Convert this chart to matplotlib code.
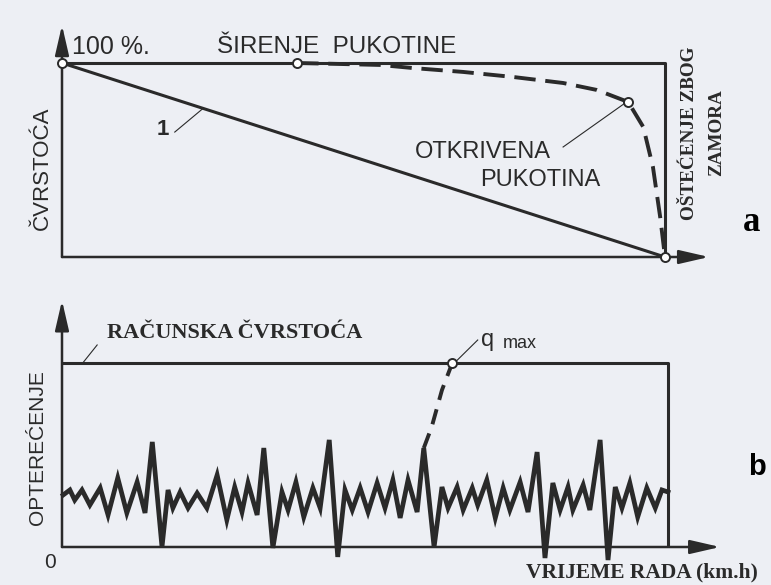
import matplotlib
matplotlib.use("Agg")
import matplotlib.pyplot as plt

W, H = 771, 585
INK = "#2a2a2a"
BG = "#edeff4"
SANS = ["Liberation Sans", "DejaVu Sans"]
SERIF = ["Liberation Serif", "DejaVu Serif"]

# (a) strength vs. operating time, in % of initial strength
t_linear = [0, 100]
s_linear = [100, 0]
t_crack = [39.0, 46.1, 52.7, 58.2, 66.5, 74.8, 83.1, 88.7, 93.9, 96.4, 98.0, 99.2, 100]
s_crack = [100, 99.5, 99.0, 97.4, 95.4, 92.8, 89.7, 86.1, 79.9, 67.0, 46.4, 20.6, 0]
crack_start = (39.0, 100)
crack_found = (93.9, 79.9)

# (b) load history, in % of design strength
t_load = [0.2, 1.3, 2.1, 3.3, 4.6, 6.3, 7.6, 9.2, 10.7, 12.4, 13.7, 14.9, 16.5,
          17.5, 18.3, 19.5, 20.8, 22.3, 23.9, 25.6, 27.2, 28.5, 29.7, 30.7, 32.2,
          33.3, 34.8, 36.3, 37.3, 38.6, 39.9, 41.4, 42.6, 44.1, 45.5, 46.7, 47.9,
          49.2, 50.5, 52.0, 53.3, 54.6, 55.8, 57.1, 58.6, 59.7, 61.4, 62.7, 63.7,
          65.2, 66.2, 67.7, 68.6, 70.1, 71.5, 72.8, 73.9, 75.6, 76.9, 78.4, 79.7,
          81.0, 82.2, 83.5, 84.3, 86.0, 87.1, 88.8, 90.1, 91.3, 92.4, 93.7, 95.0,
          96.5, 97.9, 99.0, 100]
load = [28.3, 31.0, 25.5, 31.0, 22.8, 32.1, 17.4, 37.5, 18.5, 35.3, 18.5, 57.1, 0,
        31.0, 21.2, 29.9, 21.2, 29.3, 21.2, 39.1, 14.7, 32.6, 19.0, 34.8, 17.4,
        53.8, -0.5, 29.9, 20.1, 35.3, 16.3, 32.1, 21.2, 58.2, -5.4, 31.0, 20.1,
        32.1, 19.0, 34.8, 21.2, 36.4, 15.8, 36.4, 19.0, 53.8, 0, 32.6, 21.2,
        32.6, 20.1, 32.1, 22.8, 36.4, 15.8, 32.1, 20.1, 35.3, 19.0, 51.6, -6.0,
        34.8, 20.1, 32.6, 20.1, 33.7, 20.1, 58.2, -7.1, 32.6, 21.2, 34.8, 16.3,
        32.1, 21.2, 31.0, 29.9]
t_qmax = [59.7, 61.0, 62.7, 64.4]
q_qmax = [53.8, 65.2, 85.3, 100]
design_strength = 100


def place(ax, box, x0, x1, x1val, y0, y1, y1val):
    # box = (left, top, right, bottom) in pixels; (x0,y0) is the data origin,
    # x1 / y1 the pixel positions of x1val / y1val
    left, top, right, bottom = box
    ax.set_position([left / W, 1 - bottom / H, (right - left) / W, (bottom - top) / H])
    sx = (x1 - x0) / x1val
    sy = (y0 - y1) / y1val
    ax.set_xlim((left - x0) / sx, (right - x0) / sx)
    ax.set_ylim((y0 - bottom) / sy, (y0 - top) / sy)
    ax.axis("off")


def axis_arrow(ax, start, end):
    ax.annotate("", xy=end, xytext=start,
                arrowprops=dict(arrowstyle="-|>,head_length=1.3,head_width=0.3",
                                lw=1.8, color=INK, mutation_scale=14,
                                shrinkA=0, shrinkB=0))


def open_dot(ax, x, y):
    ax.plot([x], [y], "o", ms=6.5, mfc="white", mec=INK, mew=1.4, zorder=5, clip_on=False)


fig = plt.figure(figsize=(W / 100, H / 100), dpi=100, facecolor=BG)

# ---- panel a ----
ax1 = fig.add_axes([0, 0, 1, 1])
place(ax1, (0, 0, W, 290), 62, 665, 100, 257, 63, 100)
ax1.plot([0, 100, 100], [100, 100, 0], color=INK, lw=2.2, solid_capstyle="butt")
ax1.plot(t_linear, s_linear, color=INK, lw=2.2)
ax1.plot(t_crack, s_crack, color=INK, lw=2.8, linestyle=(0, (5.5, 2.5)))
axis_arrow(ax1, (0, 0), (0, 119.5))
axis_arrow(ax1, (0, 0), (107.3, 0))
open_dot(ax1, 0, 100)
open_dot(ax1, *crack_start)
open_dot(ax1, *crack_found)
open_dot(ax1, 100, 0)

ax1.text(1.6, 108.5, "100 %.", family=SANS, fontsize=18, color=INK, ha="left", va="center")
ax1.text(25.7, 108.5, "ŠIRENJE  PUKOTINE", family=SANS, fontsize=17.5, color=INK,
         ha="left", va="center")
ax1.text(-3.2, 46, "ČVRSTOĆA", family=SANS, fontsize=16, color=INK, rotation=90,
         ha="center", va="center")
ax1.plot([18.7, 23.4], [64.4, 76.6], color=INK, lw=0.8)
ax1.text(16.7, 65.5, "1", family=SANS, fontsize=16, fontweight="bold", color=INK,
         ha="center", va="center")
ax1.plot([83.1, 93.4], [56.7, 79.4], color=INK, lw=0.8)
ax1.text(69.8, 54.1, "OTKRIVENA", family=SANS, fontsize=17, color=INK, ha="center", va="center")
ax1.text(79.3, 39.7, "PUKOTINA", family=SANS, fontsize=17, color=INK, ha="center", va="center")
ax1.text(104.1, 64, "OŠTEĆENJE ZBOG", family=SERIF, fontsize=13.8, fontweight="bold",
         color=INK, rotation=90, ha="center", va="center")
ax1.text(108.6, 64, "ZAMORA", family=SERIF, fontsize=13.8, fontweight="bold",
         color=INK, rotation=90, ha="center", va="center")
ax1.text(114.4, 18, "a", family=SERIF, fontsize=25, fontweight="bold", color="black",
         ha="center", va="center")

# ---- panel b ----
ax2 = fig.add_axes([0, 0, 1, 1])
place(ax2, (0, 290, W, H), 62, 668, 100, 547, 363, 100)
ax2.plot([0, 100, 100], [design_strength, design_strength, 0], color=INK, lw=2.2,
         solid_capstyle="butt")
ax2.plot(t_load, load, color=INK, lw=3.4, solid_joinstyle="miter", clip_on=False)
ax2.plot(t_qmax, q_qmax, color=INK, lw=2.8, linestyle=(0, (4, 2.5)))
axis_arrow(ax2, (0, 0), (0, 134))
axis_arrow(ax2, (0, 0), (108.6, 0))
open_dot(ax2, t_qmax[-1], q_qmax[-1])

ax2.text(7.4, 116.3, "RAČUNSKA ČVRSTOĆA", family=SERIF, fontsize=16, fontweight="bold",
         color=INK, ha="left", va="center")
ax2.plot([3.3, 5.8], [99.5, 109.8], color=INK, lw=0.8)
ax2.plot([64.9, 68.6], [100.5, 112.5], color=INK, lw=0.8)
ax2.text(70.2, 112.5, "q", family=SANS, fontsize=17, color=INK, ha="center", va="center")
ax2.text(72.8, 110.5, "max", family=SANS, fontsize=13, color=INK, ha="left", va="center")
ax2.text(-4.0, 54, "OPTEREĆENJE", family=SANS, fontsize=15, color=INK, rotation=90,
         ha="center", va="center")
ax2.text(-2.0, -8.2, "0", family=SANS, fontsize=15, color=INK, ha="center", va="center")
ax2.text(114.7, 43.5, "b", family=SANS, fontsize=21, fontweight="bold", color="black",
         ha="center", va="center")
ax2.text(76.5, -14.1, "VRIJEME RADA (km.h)", family=SERIF, fontsize=15.5, fontweight="bold",
         color=INK, ha="left", va="center")

fig.savefig("out.png", dpi=100, facecolor=BG)
